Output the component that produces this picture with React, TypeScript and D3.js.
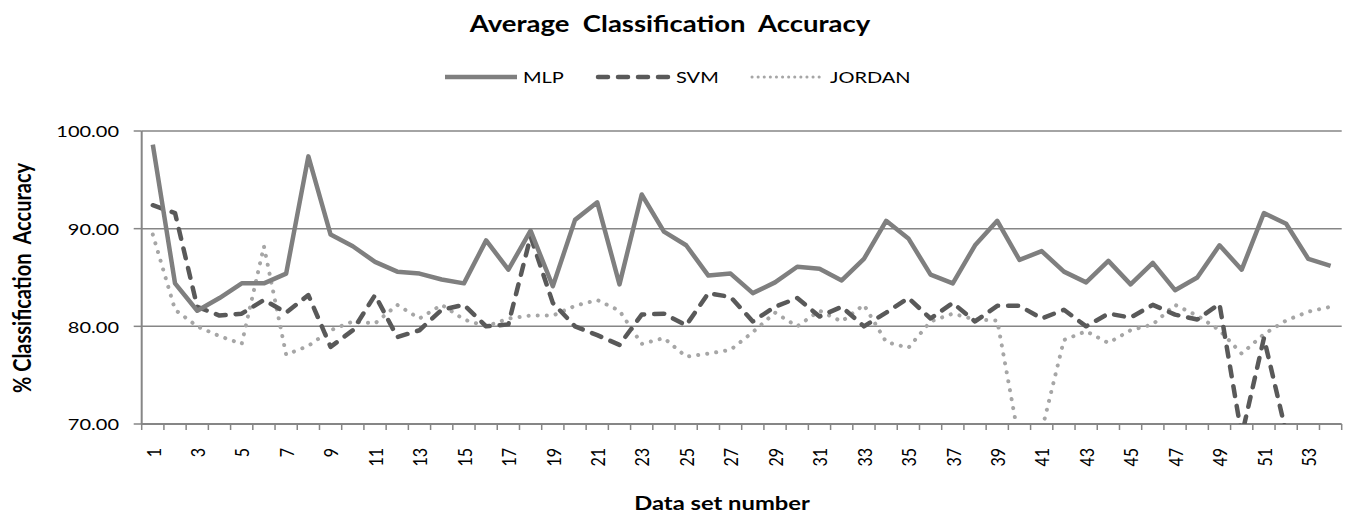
import { useEffect, useRef } from "react";
import * as d3 from "d3";

// values (data sets 1..54)
const dataSets = d3.range(1, 55);

const mlp = [
  98.6, 84.4, 81.6, 82.9, 84.4, 84.4, 85.4, 97.4, 89.4, 88.2,
  86.6, 85.6, 85.4, 84.8, 84.4, 88.8, 85.8, 89.8, 84.1, 90.9,
  92.7, 84.3, 93.5, 89.7, 88.3, 85.2, 85.4, 83.4, 84.5, 86.1,
  85.9, 84.7, 86.9, 90.8, 89.0, 85.3, 84.4, 88.3, 90.8, 86.8,
  87.7, 85.6, 84.5, 86.7, 84.3, 86.5, 83.7, 85.0, 88.3, 85.8,
  91.6, 90.5, 86.9, 86.2,
];

const svm: (number | null)[] = [
  92.4, 91.6, 82.0, 81.1, 81.3, 82.7, 81.4, 83.2, 77.9, 79.6,
  83.2, 78.9, 79.6, 81.7, 82.2, 80.0, 80.2, 89.2, 82.4, 80.0,
  79.1, 78.1, 81.2, 81.3, 80.1, 83.4, 83.0, 80.5, 82.0, 82.9,
  81.0, 82.0, 80.0, 81.4, 82.9, 80.8, 82.4, 80.5, 82.1, 82.1,
  80.8, 81.7, 80.0, 81.3, 80.9, 82.2, 81.2, 80.7, 82.3, 68.8,
  78.8, 69.1, null, null,
];

const jordan = [
  89.4, 81.7, 80.0, 79.0, 78.2, 88.2, 77.1, 78.0, 79.6, 80.5,
  80.3, 82.2, 80.8, 82.2, 80.7, 80.0, 80.8, 81.1, 81.1, 82.1,
  82.7, 81.6, 78.2, 78.8, 76.9, 77.2, 77.6, 79.4, 81.4, 80.0,
  81.6, 80.5, 82.2, 78.4, 77.8, 80.5, 81.3, 80.7, 80.6, 68.1,
  69.3, 78.6, 79.5, 78.3, 79.6, 80.2, 82.2, 81.1, 79.6, 77.2,
  79.2, 80.6, 81.5, 82.0,
];

const yTicks = [70, 80, 90, 100];

const series = [
  { name: "MLP", values: mlp, color: "#7f7f7f", width: 4.5, dash: "", legendX: 445 },
  { name: "SVM", values: svm, color: "#595959", width: 4.5, dash: "10 10", legendX: 598 },
  { name: "JORDAN", values: jordan, color: "#a6a6a6", width: 4, dash: "0.1 9", legendX: 752 },
];

const W = 1347;
const H = 520;
const SX = 1.25; // the reference text is a little wide
const FONT = "Lato, 'Open Sans', sans-serif";

export default function App() {
  const svgRef = useRef<SVGSVGElement>(null);

  useEffect(() => {
    document.body.style.margin = "0";
    if (!svgRef.current) return;
    const svg = d3.select(svgRef.current);
    svg.selectAll("*").remove();

    const left = 141.7, right = 1341.7, top = 131, bottom = 424;

    const x = d3.scaleBand<number>().domain(dataSets).range([left, right]).padding(0);
    const cx = (d: number) => (x(d) ?? 0) + x.bandwidth() / 2;
    const y = d3.scaleLinear().domain([70, 100]).range([bottom, top]);

    const text = (
      px: number, py: number, str: string,
      opts: { size: number; bold?: boolean; anchor?: string; rotate?: number }
    ) => {
      const g = svg.append("g")
        .attr("transform", `translate(${px},${py}) scale(${SX},1)${opts.rotate ? ` rotate(${opts.rotate})` : ""}`);
      g.append("text")
        .attr("font-family", FONT)
        .attr("font-size", opts.size)
        .attr("font-weight", opts.bold ? 700 : 400)
        .attr("text-anchor", opts.anchor ?? "middle")
        .attr("dominant-baseline", "central")
        .style("white-space", "pre")
        .attr("fill", "#000")
        .text(str);
    };

    // title
    text(670, 23, "Average  Classification  Accuracy", { size: 22, bold: true });

    // legend
    series.forEach((s) => {
      svg.append("line")
        .attr("x1", s.legendX).attr("x2", s.legendX + 72)
        .attr("y1", 77).attr("y2", 77)
        .attr("stroke", s.color)
        .attr("stroke-width", s.name === "JORDAN" ? 3 : s.width)
        .attr("stroke-linecap", s.dash ? "round" : "butt")
        .attr("stroke-dasharray", s.name === "JORDAN" ? "0.1 6" : s.dash || null);
      text(s.legendX + 78, 77, s.name, { size: 16, anchor: "start" });
    });

    // gridlines
    svg.append("g")
      .selectAll("line")
      .data(yTicks.filter((t) => t > 70))
      .join("line")
      .attr("x1", left).attr("x2", right)
      .attr("y1", (d) => y(d)).attr("y2", (d) => y(d))
      .attr("stroke", "#868686")
      .attr("stroke-width", 1.5);

    // y axis
    svg.append("line")
      .attr("x1", left).attr("x2", left)
      .attr("y1", top).attr("y2", bottom)
      .attr("stroke", "#868686").attr("stroke-width", 2);
    yTicks.forEach((t) => {
      svg.append("line")
        .attr("x1", left - 8).attr("x2", left)
        .attr("y1", y(t)).attr("y2", y(t))
        .attr("stroke", "#868686").attr("stroke-width", 1.5);
      text(119, y(t), t.toFixed(2), { size: 16, anchor: "end" });
    });

    // x axis
    svg.append("line")
      .attr("x1", left).attr("x2", right)
      .attr("y1", bottom).attr("y2", bottom)
      .attr("stroke", "#868686").attr("stroke-width", 2);
    [...dataSets.map((d) => x(d) ?? 0), right].forEach((bx) => {
      svg.append("line")
        .attr("x1", bx).attr("x2", bx)
        .attr("y1", bottom).attr("y2", bottom + 6)
        .attr("stroke", "#868686").attr("stroke-width", 1.5);
    });
    dataSets.filter((d) => d % 2 === 1).forEach((d) => {
      text(cx(d), 448, String(d), { size: 16, anchor: "end", rotate: -90 });
    });

    // axis titles
    text(722, 503, "Data set number", { size: 19, bold: true });
    text(22, 278, "% Classification  Accuracy", { size: 20, bold: true, rotate: -90 });

    // series
    svg.append("clipPath").attr("id", "plot-clip")
      .append("rect")
      .attr("x", left).attr("y", top - 10)
      .attr("width", right - left).attr("height", bottom - top + 10);

    const line = d3.line<number | null>()
      .defined((d) => d !== null)
      .x((_, i) => cx(dataSets[i]))
      .y((d) => y(d as number));

    const plot = svg.append("g").attr("clip-path", "url(#plot-clip)");
    [...series].reverse().forEach((s) => {
      plot.append("path")
        .datum(s.values)
        .attr("d", line)
        .attr("fill", "none")
        .attr("stroke", s.color)
        .attr("stroke-width", s.width)
        .attr("stroke-linejoin", "round")
        .attr("stroke-linecap", s.dash ? "round" : "butt")
        .attr("stroke-dasharray", s.dash || null);
    });
  }, []);

  return <svg ref={svgRef} width={W} height={H} style={{ display: "block", background: "#fff" }} />;
}
